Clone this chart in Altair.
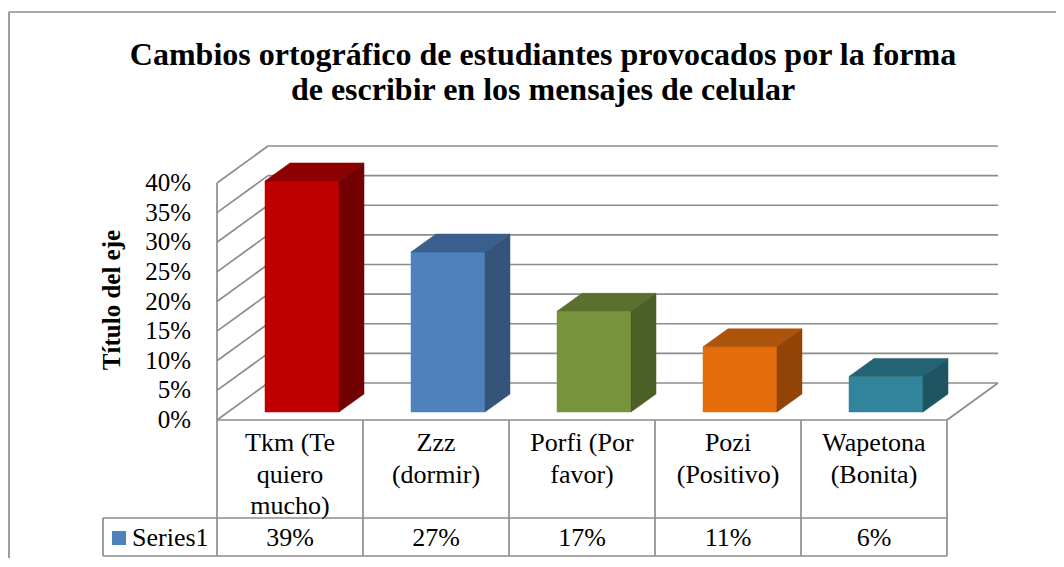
import altair as alt
import pandas as pd

# ---------------- data ----------------
title_lines = ["Cambios ortográfico de estudiantes provocados por la forma",
               "de escribir en los mensajes de celular"]
axis_title = "Título del eje"
category_lines = [["Tkm (Te", "quiero", "mucho)"],
                  ["Zzz", "(dormir)"],
                  ["Porfi (Por", "favor)"],
                  ["Pozi", "(Positivo)"],
                  ["Wapetona", "(Bonita)"]]
values = [39, 27, 17, 11, 6]
value_labels = ["39%", "27%", "17%", "11%", "6%"]
series_name = "Series1"
y_ticks = [0, 5, 10, 15, 20, 25, 30, 35, 40]
y_tick_labels = ["0%", "5%", "10%", "15%", "20%", "25%", "30%", "35%", "40%"]
front_colors = ["#C00000", "#4F81BD", "#77933C", "#E46C0A", "#31849B"]
top_colors = ["#8E0000", "#3B5F8D", "#5A7030", "#AE530A", "#236373"]
side_colors = ["#720000", "#345479", "#4C5F27", "#924306", "#1F5562"]
legend_color = "#4F81BD"
line_color = "#8C8C8C"
FONT = "'Liberation Serif', 'Times New Roman', 'DejaVu Serif', serif"

# ---------------- layout ----------------
W, H = 1048, 550
PX_COL = 146.0        # pixels per category column
PX_PCT = 5.925        # pixels per percent point
X0, Y0 = 217, 420     # page position of (0, 0%)


def xs(px):
    return (px - X0) / PX_COL


def ys(py):
    return (Y0 - py) / PX_PCT


x_dom = [xs(8), xs(8 + W)]
y_dom = [ys(8 + H), ys(8)]
xscale = alt.Scale(domain=x_dom, nice=False, zero=False)
yscale = alt.Scale(domain=y_dom, nice=False, zero=False)

n = len(values)
DX, DY = 51 / PX_COL, 37 / PX_PCT          # wall depth
XL, XR = 48 / PX_COL, 122 / PX_COL          # bar front face within a column
BASE = 8 / PX_PCT                           # bar base (mid depth)
DDX, DDY = 25 / PX_COL, 18 / PX_PCT         # bar depth
top_val = y_ticks[-1]

X = lambda f="x": alt.X(f"{f}:Q", scale=xscale, axis=None)
Y = lambda f="y": alt.Y(f"{f}:Q", scale=yscale, axis=None)

# ---------------- structural lines ----------------
rules = []
for g in y_ticks:
    rules.append(dict(x=DX, x2=n + DX, y=g + DY, y2=g + DY))   # back wall
    rules.append(dict(x=0, x2=DX, y=g, y2=g + DY))             # side wall
rules.append(dict(x=0, x2=0, y=0, y2=top_val))                 # front-left edge
rules.append(dict(x=0, x2=n, y=0, y2=0))                       # floor front / table top
rules.append(dict(x=n, x2=n + DX, y=0, y2=DY))                 # floor right
# table
rules.append(dict(x=xs(103), x2=n, y=ys(518), y2=ys(518)))
rules.append(dict(x=xs(103), x2=n, y=ys(556), y2=ys(556)))
for k in range(n + 1):
    rules.append(dict(x=k, x2=k, y=ys(556), y2=0))
rules.append(dict(x=xs(103), x2=xs(103), y=ys(556), y2=ys(518)))
# frame
rules.append(dict(x=xs(9), x2=xs(1056), y=ys(12), y2=ys(12)))
rules.append(dict(x=xs(9), x2=xs(9), y=ys(12), y2=ys(558)))
rules_df = pd.DataFrame(rules)

rule_layer = alt.Chart(rules_df).mark_rule(color=line_color, strokeWidth=1.7).encode(
    x=X(), x2="x2:Q", y=Y(), y2="y2:Q")

# ---------------- bars ----------------
front_rows, top_rows, side_rows = [], [], []
for i, v in enumerate(values):
    front_rows.append(dict(c=i, x=i + XL, x2=i + XR, y=BASE, y2=BASE + v, col=front_colors[i]))
    top_rows.append(dict(c=i, y=BASE + v, x=i + XL, x2=i + XR, col=top_colors[i]))
    top_rows.append(dict(c=i, y=BASE + v + DDY, x=i + XL + DDX, x2=i + XR + DDX, col=top_colors[i]))
    side_rows.append(dict(c=i, x=i + XR, y=BASE, y2=BASE + v, col=side_colors[i]))
    side_rows.append(dict(c=i, x=i + XR + DDX, y=BASE + DDY, y2=BASE + v + DDY, col=side_colors[i]))

front_layer = alt.Chart(pd.DataFrame(front_rows)).mark_rect(strokeWidth=0.5).encode(
    x=X(), x2="x2:Q", y=Y(), y2="y2:Q",
    fill=alt.Fill("col:N", scale=None), stroke=alt.Stroke("col:N", scale=None))

top_layer = alt.Chart(pd.DataFrame(top_rows)).mark_area(orient="horizontal", strokeWidth=0.5).encode(
    y=Y(), x=X(), x2="x2:Q", detail="c:N",
    fill=alt.Fill("col:N", scale=None), stroke=alt.Stroke("col:N", scale=None))

side_layer = alt.Chart(pd.DataFrame(side_rows)).mark_area(orient="vertical", strokeWidth=0.5).encode(
    x=X(), y=Y(), y2="y2:Q", detail="c:N",
    fill=alt.Fill("col:N", scale=None), stroke=alt.Stroke("col:N", scale=None))

# ---------------- texts ----------------
title_df = pd.DataFrame([dict(x=xs(543), y=ys(55 + 35 * k), t=t) for k, t in enumerate(title_lines)])
title_layer = alt.Chart(title_df).mark_text(font=FONT, fontSize=32, fontWeight="bold",
                                            color="black", baseline="middle", align="center").encode(
    x=X(), y=Y(), text="t:N")

tick_df = pd.DataFrame(dict(x=[xs(191)] * len(y_ticks), y=y_ticks, t=y_tick_labels))
tick_layer = alt.Chart(tick_df).mark_text(font=FONT, fontSize=25, color="black",
                                          baseline="middle", align="right").encode(
    x=X(), y=Y(), text="t:N")

atitle_df = pd.DataFrame([dict(x=xs(112), y=ys(300), t=axis_title)])
atitle_layer = alt.Chart(atitle_df).mark_text(font=FONT, fontSize=25, fontWeight="bold",
                                              color="black", baseline="middle", align="center",
                                              angle=270).encode(
    x=X(), y=Y(), text="t:N")

cat_rows = []
for i, lines in enumerate(category_lines):
    for k, t in enumerate(lines):
        cat_rows.append(dict(x=i + 0.5, y=ys(443 + 31.5 * k), t=t))
for i, t in enumerate(value_labels):
    cat_rows.append(dict(x=i + 0.5, y=ys(538), t=t))
cat_layer = alt.Chart(pd.DataFrame(cat_rows)).mark_text(font=FONT, fontSize=26, color="black",
                                                        baseline="middle", align="center").encode(
    x=X(), y=Y(), text="t:N")

leg_df = pd.DataFrame([dict(x=xs(119), y=ys(538), tx=xs(132), t=series_name)])
leg_sq = alt.Chart(leg_df).mark_square(size=196, color=legend_color, opacity=1, filled=True).encode(
    x=X(), y=Y())
leg_tx = alt.Chart(leg_df).mark_text(font=FONT, fontSize=26, color="black",
                                     baseline="middle", align="left").encode(
    x=X("tx"), y=Y(), text="t:N")

chart = alt.layer(rule_layer, front_layer, top_layer, side_layer,
                  title_layer, tick_layer, atitle_layer, cat_layer, leg_sq, leg_tx).properties(
    width=W, height=H, autosize=alt.AutoSizeParams(type="none"), padding=0,
    background="white").configure_view(stroke=None)

chart.save("out.html", embed_options={"renderer": "svg", "actions": False})
